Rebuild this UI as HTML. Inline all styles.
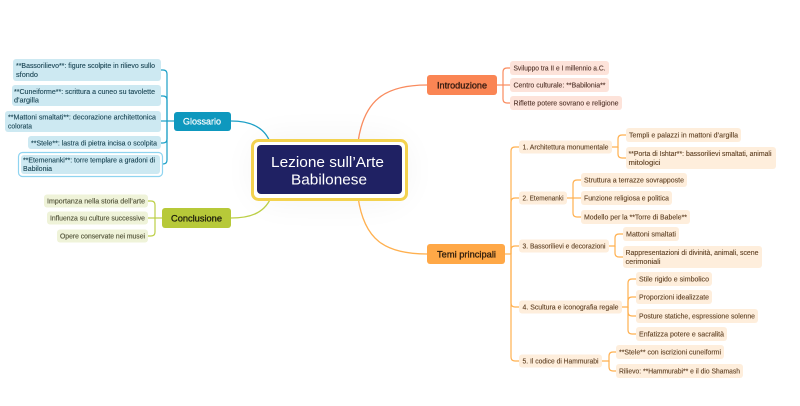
<!DOCTYPE html>
<html><head><meta charset="utf-8">
<style>
html,body{margin:0;padding:0;background:#fff;}
svg{display:block;}
text{font-family:"Liberation Sans",sans-serif;}
</style></head>
<body>
<svg width="800" height="406" viewBox="0 0 800 406" xmlns="http://www.w3.org/2000/svg">
<defs>
<filter id="blur" x="-50%" y="-50%" width="200%" height="200%"><feGaussianBlur stdDeviation="18"/></filter>
</defs>
<rect width="800" height="406" fill="#fff"/>
<rect x="255" y="140" width="150" height="60" rx="20" fill="#000" opacity="0.05" filter="url(#blur)"/>

<!-- main connectors -->
<g fill="none" stroke-width="1.3">
<path d="M231,121 C252,121 266,128 271,145" stroke="#1b9fc6"/>
<path d="M231,218 C252,218 266,212 272,195" stroke="#bccf45"/>
<path d="M358,142 C364,100 385,85 427,85" stroke="#f98b5e"/>
<path d="M358,197 C364,240 385,254 427,254" stroke="#ffb04f"/>
</g>

<!-- brackets -->
<g fill="none" stroke-width="1.2">
<g stroke="#1b9fc6">
<path d="M174,121 H161"/>
<path d="M167,121 V74 Q167,70 163,70 H161"/>
<path d="M167,121 V100 Q167,96 163,96 H161"/>
<path d="M167,121 V139 Q167,143 163,143 H161"/>
<path d="M167,121 V160 Q167,164 163,164 H161"/>
</g>
<g stroke="#bccf45">
<path d="M162,218 H148"/>
<path d="M155,218 V205 Q155,201 151,201 H148"/>
<path d="M155,218 V232 Q155,236 151,236 H148"/>
</g>
<g stroke="#f98b5e">
<path d="M497,85 H510"/>
<path d="M503,85 V72 Q503,68 507,68 H510"/>
<path d="M503,85 V99 Q503,103 507,103 H510"/>
</g>
<g stroke="#ffb04f">
<path d="M505,254 H511"/>
<path d="M511,254 V151 Q511,147 515,147 H519"/>
<path d="M511,254 V202 Q511,198 515,198 H519"/>
<path d="M511,254 V250 Q511,246 515,246 H519"/>
<path d="M511,254 V303 Q511,307 515,307 H519"/>
<path d="M511,254 V357 Q511,361 515,361 H519"/>
<path d="M612,147 H618 V139 Q618,135 622,135 H626"/>
<path d="M618,147 V154 Q618,158 622,158 H626"/>
<path d="M567,198 H581"/>
<path d="M573,198 V184 Q573,180 577,180 H581"/>
<path d="M573,198 V213 Q573,217 577,217 H581"/>
<path d="M609,246 H615 V238 Q615,234 619,234 H623"/>
<path d="M615,246 V253 Q615,257 619,257 H623"/>
<path d="M622,307 H628 V283 Q628,279 632,279 H636"/>
<path d="M628,307 V301 Q628,297 632,297 H636"/>
<path d="M628,307 V312 Q628,316 632,316 H636"/>
<path d="M628,307 V330 Q628,334 632,334 H636"/>
<path d="M602,361 H609 V356 Q609,352 613,352 H616"/>
<path d="M609,361 V367 Q609,371 613,371 H616"/>
</g>
</g>

<!-- central -->
<rect x="252.5" y="140.5" width="154" height="59" rx="6" fill="#fff" stroke="#f3d24f" stroke-width="3"/>
<rect x="257" y="145" width="145" height="49" rx="4" fill="#1f2163"/>
<text x="327.5" y="167" font-size="15" fill="#fff" text-anchor="middle" textLength="113" lengthAdjust="spacingAndGlyphs">Lezione sull’Arte</text>
<text x="329" y="184.5" font-size="15" fill="#fff" text-anchor="middle" textLength="76" lengthAdjust="spacingAndGlyphs">Babilonese</text>

<!-- main nodes -->
<rect x="174" y="112" width="57" height="19" rx="3" fill="#0e98be"/>
<text x="183" y="124.5" font-size="9" fill="#fff" stroke="#fff" stroke-width="0.2" textLength="38" lengthAdjust="spacingAndGlyphs">Glossario</text>

<rect x="162" y="208" width="69" height="20" rx="3" fill="#b7c939"/>
<text x="171" y="221.3" font-size="9.5" fill="#1e1e0c" stroke="#1e1e0c" stroke-width="0.3" textLength="51" lengthAdjust="spacingAndGlyphs">Conclusione</text>

<rect x="427" y="75" width="70" height="20" rx="3" fill="#fa8554"/>
<text x="437" y="88.3" font-size="9.5" fill="#2e170e" stroke="#2e170e" stroke-width="0.3" textLength="50" lengthAdjust="spacingAndGlyphs">Introduzione</text>

<rect x="427" y="244" width="78" height="20" rx="3" fill="#ffa847"/>
<text x="437" y="257.3" font-size="9.5" fill="#2e1c0c" stroke="#2e1c0c" stroke-width="0.3" textLength="59" lengthAdjust="spacingAndGlyphs">Temi principali</text>

<!-- glossary children -->
<g font-size="7" fill="#1c4756" stroke="#1c4756" stroke-width="0.12">
<rect x="13" y="59" width="148" height="22" rx="3" fill="#cde9f2" stroke="none"/>
<text x="16" y="68.2" textLength="139" lengthAdjust="spacingAndGlyphs">**Bassorilievo**: figure scolpite in rilievo sullo</text>
<text x="16" y="76.8" textLength="22" lengthAdjust="spacingAndGlyphs">sfondo</text>

<rect x="12" y="85" width="149" height="21" rx="3" fill="#cde9f2" stroke="none"/>
<text x="14" y="94.2" textLength="141" lengthAdjust="spacingAndGlyphs">**Cuneiforme**: scrittura a cuneo su tavolette</text>
<text x="14" y="102.6" textLength="25" lengthAdjust="spacingAndGlyphs">d'argilla</text>

<rect x="5" y="111" width="156" height="21" rx="3" fill="#cde9f2" stroke="none"/>
<text x="8" y="119.6" textLength="148" lengthAdjust="spacingAndGlyphs">**Mattoni smaltati**: decorazione architettonica</text>
<text x="8" y="128.3" textLength="24" lengthAdjust="spacingAndGlyphs">colorata</text>

<rect x="28" y="136" width="133" height="13" rx="3" fill="#cde9f2" stroke="none"/>
<text x="31" y="145.3" textLength="126" lengthAdjust="spacingAndGlyphs">**Stele**: lastra di pietra incisa o scolpita</text>

<rect x="18.5" y="152.5" width="144" height="24" rx="4" fill="#fff" stroke="#8fd4f0" stroke-width="1.2"/>
<rect x="21" y="155" width="139" height="19" rx="3" fill="#cde9f2" stroke="none"/>
<text x="23" y="162.5" textLength="132" lengthAdjust="spacingAndGlyphs">**Etemenanki**: torre templare a gradoni di</text>
<text x="23" y="170.8" textLength="29" lengthAdjust="spacingAndGlyphs">Babilonia</text>
</g>

<!-- conclusion children -->
<g font-size="7" fill="#4c4d33" stroke="#4c4d33" stroke-width="0.12">
<rect x="44" y="194.5" width="104" height="13" rx="3" fill="#eff3d9" stroke="none"/>
<text x="47" y="203.5" textLength="98" lengthAdjust="spacingAndGlyphs">Importanza nella storia dell’arte</text>
<rect x="47" y="211.5" width="101" height="13" rx="3" fill="#eff3d9" stroke="none"/>
<text x="50" y="220.5" textLength="95" lengthAdjust="spacingAndGlyphs">Influenza su culture successive</text>
<rect x="57" y="229.5" width="91" height="13" rx="3" fill="#eff3d9" stroke="none"/>
<text x="60" y="238.5" textLength="85" lengthAdjust="spacingAndGlyphs">Opere conservate nei musei</text>
</g>

<!-- intro children -->
<g font-size="7" fill="#52342a" stroke="#52342a" stroke-width="0.12">
<rect x="510" y="61" width="99" height="14" rx="3" fill="#fde3da" stroke="none"/>
<text x="513.5" y="70.5" textLength="92" lengthAdjust="spacingAndGlyphs">Sviluppo tra II e I millennio a.C.</text>
<rect x="510" y="78" width="99" height="14" rx="3" fill="#fde3da" stroke="none"/>
<text x="513.5" y="87.5" textLength="92" lengthAdjust="spacingAndGlyphs">Centro culturale: **Babilonia**</text>
<rect x="510" y="96" width="112" height="14" rx="3" fill="#fde3da" stroke="none"/>
<text x="513.5" y="105.5" textLength="105" lengthAdjust="spacingAndGlyphs">Riflette potere sovrano e religione</text>
</g>

<!-- temi children -->
<g font-size="7" fill="#604225" stroke="#604225" stroke-width="0.12">
<rect x="519" y="140.5" width="93" height="13" rx="3" fill="#feeedc" stroke="none"/>
<text x="522.5" y="149.5" textLength="86" lengthAdjust="spacingAndGlyphs">1. Architettura monumentale</text>
<rect x="519" y="191.5" width="48" height="13" rx="3" fill="#feeedc" stroke="none"/>
<text x="522.5" y="200.5" textLength="41" lengthAdjust="spacingAndGlyphs">2. Etemenanki</text>
<rect x="519" y="239.5" width="90" height="13" rx="3" fill="#feeedc" stroke="none"/>
<text x="522.5" y="248.5" textLength="83" lengthAdjust="spacingAndGlyphs">3. Bassorilievi e decorazioni</text>
<rect x="519" y="300.5" width="103" height="13" rx="3" fill="#feeedc" stroke="none"/>
<text x="522.5" y="309.5" textLength="96" lengthAdjust="spacingAndGlyphs">4. Scultura e iconografia regale</text>
<rect x="519" y="354.5" width="83" height="13" rx="3" fill="#feeedc" stroke="none"/>
<text x="522.5" y="363.5" textLength="76" lengthAdjust="spacingAndGlyphs">5. Il codice di Hammurabi</text>

<rect x="626" y="128" width="115" height="14" rx="3" fill="#feeedc" stroke="none"/>
<text x="629" y="137.5" textLength="109" lengthAdjust="spacingAndGlyphs">Templi e palazzi in mattoni d’argilla</text>
<rect x="626" y="147" width="150" height="22" rx="3" fill="#feeedc" stroke="none"/>
<text x="628.5" y="156.2" textLength="143" lengthAdjust="spacingAndGlyphs">**Porta di Ishtar**: bassorilievi smaltati, animali</text>
<text x="628.5" y="164.8" textLength="32" lengthAdjust="spacingAndGlyphs">mitologici</text>

<rect x="581" y="173" width="106" height="14" rx="3" fill="#feeedc" stroke="none"/>
<text x="584" y="182.5" textLength="100" lengthAdjust="spacingAndGlyphs">Struttura a terrazze sovrapposte</text>
<rect x="581" y="191" width="91" height="14" rx="3" fill="#feeedc" stroke="none"/>
<text x="584" y="200.5" textLength="85" lengthAdjust="spacingAndGlyphs">Funzione religiosa e politica</text>
<rect x="581" y="210" width="109" height="14" rx="3" fill="#feeedc" stroke="none"/>
<text x="584" y="219.5" textLength="103" lengthAdjust="spacingAndGlyphs">Modello per la **Torre di Babele**</text>

<rect x="623" y="227" width="56" height="14" rx="3" fill="#feeedc" stroke="none"/>
<text x="626" y="236.5" textLength="50" lengthAdjust="spacingAndGlyphs">Mattoni smaltati</text>
<rect x="623" y="246" width="139" height="22" rx="3" fill="#feeedc" stroke="none"/>
<text x="625.5" y="255.2" textLength="133" lengthAdjust="spacingAndGlyphs">Rappresentazioni di divinità, animali, scene</text>
<text x="625.5" y="263.8" textLength="35" lengthAdjust="spacingAndGlyphs">cerimoniali</text>

<rect x="636" y="272" width="76" height="14" rx="3" fill="#feeedc" stroke="none"/>
<text x="639" y="281.5" textLength="70" lengthAdjust="spacingAndGlyphs">Stile rigido e simbolico</text>
<rect x="636" y="290" width="76" height="14" rx="3" fill="#feeedc" stroke="none"/>
<text x="639" y="299.5" textLength="70" lengthAdjust="spacingAndGlyphs">Proporzioni idealizzate</text>
<rect x="636" y="309" width="122" height="14" rx="3" fill="#feeedc" stroke="none"/>
<text x="639" y="318.5" textLength="116" lengthAdjust="spacingAndGlyphs">Posture statiche, espressione solenne</text>
<rect x="636" y="327" width="91" height="14" rx="3" fill="#feeedc" stroke="none"/>
<text x="639" y="336.5" textLength="85" lengthAdjust="spacingAndGlyphs">Enfatizza potere e sacralità</text>

<rect x="616" y="345" width="108" height="14" rx="3" fill="#feeedc" stroke="none"/>
<text x="619" y="354.5" textLength="102" lengthAdjust="spacingAndGlyphs">**Stele** con iscrizioni cuneiformi</text>
<rect x="616" y="364" width="127" height="14" rx="3" fill="#feeedc" stroke="none"/>
<text x="619" y="373.5" textLength="121" lengthAdjust="spacingAndGlyphs">Rilievo: **Hammurabi** e il dio Shamash</text>
</g>
</svg>
</body></html>
